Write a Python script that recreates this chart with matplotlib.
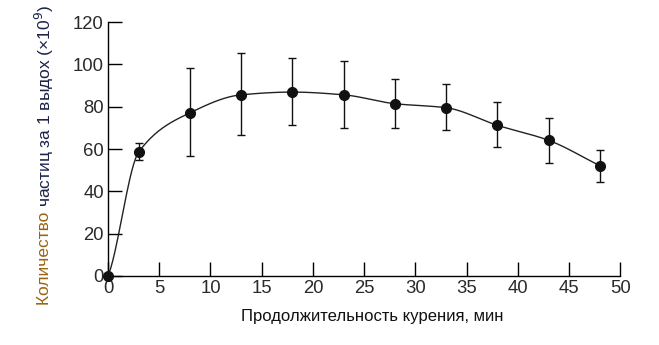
import matplotlib.pyplot as plt
import numpy as np

# smoking duration, min
time_min = [0, 3, 8, 13, 18, 23, 28, 33, 38, 43, 48]
# particles per puff (x10^9)
particles = [0, 58.6, 77.1, 85.6, 86.9, 85.6, 81.4, 79.5, 71.2, 64.1, 52.1]
err_low = [0, 54.6, 56.5, 66.4, 71.2, 69.8, 69.8, 68.8, 60.8, 53.2, 44.5]
err_high = [0, 62.7, 98.1, 105.2, 102.8, 101.4, 92.9, 90.5, 82.0, 74.5, 59.4]

x_ticks = [0, 5, 10, 15, 20, 25, 30, 35, 40, 45, 50]
y_ticks = [0, 20, 40, 60, 80, 100, 120]


def pchip(x, y, xs):
    # monotone cubic (Fritsch-Carlson) for the smooth guide line
    x = np.asarray(x, float)
    y = np.asarray(y, float)
    h = np.diff(x)
    d = np.diff(y) / h
    m = np.zeros_like(y)
    for k in range(1, len(x) - 1):
        if d[k - 1] * d[k] > 0:
            w1 = 2 * h[k] + h[k - 1]
            w2 = h[k] + 2 * h[k - 1]
            m[k] = (w1 + w2) / (w1 / d[k - 1] + w2 / d[k])
    m[0] = d[0] * 0.6
    m[-1] = d[-1]
    out = np.empty_like(xs)
    for i, xv in enumerate(xs):
        k = min(np.searchsorted(x, xv, side="right") - 1, len(x) - 2)
        t = (xv - x[k]) / h[k]
        h00 = 2 * t**3 - 3 * t**2 + 1
        h10 = t**3 - 2 * t**2 + t
        h01 = -2 * t**3 + 3 * t**2
        h11 = t**3 - t**2
        out[i] = h00 * y[k] + h10 * h[k] * m[k] + h01 * y[k + 1] + h11 * h[k] * m[k + 1]
    return out


plt.rcParams['font.family'] = ['Liberation Sans', 'DejaVu Sans']

fig = plt.figure(figsize=(6.59, 3.45), dpi=100)
ax = fig.add_axes([0.1639, 0.2, 0.7774, 0.7362])

xs = np.linspace(0, 48, 500)
ax.plot(xs, pchip(time_min, particles, xs), color='#222222', lw=1.0, zorder=2)

yerr = [np.array(particles) - np.array(err_low), np.array(err_high) - np.array(particles)]
ax.errorbar(time_min[1:], particles[1:], yerr=[yerr[0][1:], yerr[1][1:]], fmt='none',
            ecolor='#111111', elinewidth=1.0, capsize=3, capthick=1.0, zorder=3)
ax.plot(time_min, particles, 'o', color='#111111', markersize=7, zorder=4, clip_on=False)

ax.set_xlim(0, 50)
ax.set_ylim(0, 120)
ax.set_xticks(x_ticks)
ax.set_yticks(y_ticks)
ax.spines['top'].set_visible(False)
ax.spines['right'].set_visible(False)
for s in ('left', 'bottom'):
    ax.spines[s].set_linewidth(1.0)
ax.tick_params(direction='in', length=10, width=1.0, labelsize=13.3,
               labelcolor='#2a2a2a', pad=3)

ax.set_xlabel('Продолжительность курения, мин', fontsize=12, color='#111111', labelpad=8)
ax.xaxis.set_label_coords(0.516, -0.13)

# two-colour y label, drawn piecewise along the rotated baseline
fig.canvas.draw()
r = fig.canvas.get_renderer()
y0 = 0.116
t1 = fig.text(0.068, y0, 'Количество ', rotation=90, fontsize=12.5, color='#9a6410',
              ha='center', va='bottom')
bb = t1.get_window_extent(r)
y1 = y0 + bb.height / fig.bbox.height
fig.text(0.068, y1, 'частиц за 1 выдох (×10$^9$)', rotation=90, fontsize=12.5,
         color='#1b2348', ha='center', va='bottom')

fig.savefig('out.png', dpi=100)
